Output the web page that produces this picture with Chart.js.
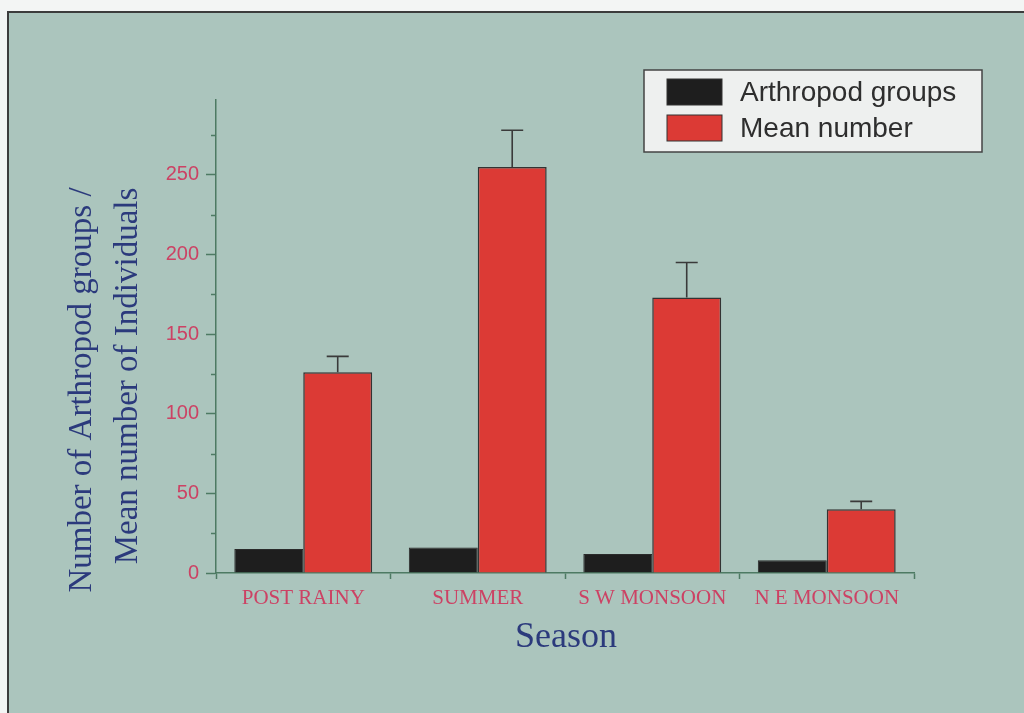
<!DOCTYPE html>
<html>
<head>
<meta charset="utf-8">
<script src="https://cdn.jsdelivr.net/npm/chart.js@4.4.0/dist/chart.umd.min.js"></script>
<style>
  html, body { margin: 0; padding: 0; background: #f3f5f4; }
  #wrap { width: 1024px; height: 713px; position: relative; }
</style>
</head>
<body>
<div id="wrap"><canvas id="chart" width="1024" height="713"></canvas></div>
<script>
// data
var seasons = ['POST RAINY', 'SUMMER', 'S W MONSOON', 'N E MONSOON'];
var arthropodGroups = [15, 16, 12, 8];
var meanNumber = [126, 255, 173, 40];
var meanError = [10, 23, 22, 5];
var yTicks = [0, 50, 100, 150, 200, 250];

var panelColor = '#abc5bd';
var axisColor = '#4d7a63';
var tickText = '#cc4264';
var titleColor = '#2b3a7c';

// background panel, y/x titles, minor ticks, legend box
var decor = {
    id: 'decor',
    beforeDraw: function(chart) {
        var c = chart.ctx;
        c.save();
        c.fillStyle = panelColor;
        c.fillRect(8, 12, 1016, 701);
        c.strokeStyle = '#3c3c3c';
        c.lineWidth = 2;
        c.beginPath();
        c.moveTo(8, 713);
        c.lineTo(8, 12);
        c.lineTo(1024, 12);
        c.stroke();
        c.restore();
    },
    afterDraw: function(chart) {
        var c = chart.ctx;
        var y = chart.scales.y;
        var area = chart.chartArea;
        c.save();

        // minor ticks
        c.strokeStyle = axisColor;
        c.lineWidth = 1.5;
        for (var v = 25; v < y.max; v += 50) {
            var py = Math.round(y.getPixelForValue(v)) + 0.5;
            c.beginPath();
            c.moveTo(area.left - 5, py);
            c.lineTo(area.left, py);
            c.stroke();
        }

        // y title, two lines
        c.fillStyle = titleColor;
        c.font = '33px "Liberation Serif", "DejaVu Serif", serif';
        c.textAlign = 'center';
        c.textBaseline = 'middle';
        c.save();
        c.translate(82, 390);
        c.rotate(-Math.PI / 2);
        c.fillText('Number of Arthropod groups /', 0, 0);
        c.restore();
        c.save();
        c.translate(128, 376);
        c.rotate(-Math.PI / 2);
        c.fillText('Mean number of Individuals', 0, 0);
        c.restore();

        // x title
        c.font = '36px "Liberation Serif", "DejaVu Serif", serif';
        c.fillText('Season', 566, 638);

        // legend
        c.fillStyle = '#eef0ef';
        c.fillRect(644, 70, 338, 82);
        c.strokeStyle = '#444';
        c.lineWidth = 1.5;
        c.strokeRect(644, 70, 338, 82);
        var ds = chart.data.datasets;
        var rows = [92, 128];
        c.font = '28px "Liberation Sans", Arial, sans-serif';
        c.textAlign = 'left';
        for (var i = 0; i < ds.length; i++) {
            c.fillStyle = ds[i].backgroundColor;
            c.fillRect(667, rows[i] - 13, 55, 26);
            c.strokeStyle = '#333';
            c.lineWidth = 1;
            c.strokeRect(667, rows[i] - 13, 55, 26);
            c.fillStyle = '#2e2e2e';
            c.fillText(ds[i].label, 740, rows[i] + 1);
        }
        c.restore();
    }
};

// upper error bars on the mean number series
var errorBars = {
    id: 'errorBars',
    afterDatasetsDraw: function(chart) {
        var c = chart.ctx;
        var meta = chart.getDatasetMeta(1);
        var y = chart.scales.y;
        c.save();
        c.strokeStyle = '#3a3a3a';
        c.lineWidth = 1.6;
        meta.data.forEach(function(bar, i) {
            var top = y.getPixelForValue(meanNumber[i] + meanError[i]);
            c.beginPath();
            c.moveTo(bar.x, bar.y);
            c.lineTo(bar.x, top);
            c.moveTo(bar.x - 11, top);
            c.lineTo(bar.x + 11, top);
            c.stroke();
        });
        c.restore();
    }
};

new Chart(document.getElementById('chart'), {
    type: 'bar',
    data: {
        labels: seasons,
        datasets: [{
            label: 'Arthropod groups',
            data: arthropodGroups,
            backgroundColor: '#1e1e1e',
            borderColor: '#2a2a2a',
            borderWidth: 1,
            barPercentage: 1,
            categoryPercentage: 0.79
        }, {
            label: 'Mean number',
            data: meanNumber,
            backgroundColor: '#dc3a35',
            borderColor: '#333333',
            borderWidth: 1.5,
            barPercentage: 1,
            categoryPercentage: 0.79
        }]
    },
    options: {
        responsive: false,
        animation: false,
        layout: { padding: { left: 150, right: 110, top: 100, bottom: 80 } },
        plugins: {
            legend: { display: false },
            tooltip: { enabled: false }
        },
        scales: {
            x: {
                afterFit: function(s) { s.height = 60; },
                grid: {
                    drawOnChartArea: false,
                    tickLength: 6,
                    tickColor: axisColor,
                    tickWidth: 1.5
                },
                border: { color: axisColor, width: 1.5 },
                ticks: {
                    padding: 7,
                    color: tickText,
                    font: { family: '"Liberation Serif", "DejaVu Serif", serif', size: 21 }
                }
            },
            y: {
                min: 0,
                max: 297,
                afterFit: function(s) { s.width = 66; },
                afterBuildTicks: function(s) {
                    s.ticks = yTicks.map(function(v) { return { value: v }; });
                },
                grid: {
                    drawOnChartArea: false,
                    tickLength: 10,
                    tickColor: axisColor,
                    tickWidth: 1.5
                },
                border: { color: axisColor, width: 1.5 },
                ticks: {
                    padding: 7,
                    color: tickText,
                    font: { family: '"Liberation Sans", Arial, sans-serif', size: 20 }
                }
            }
        }
    },
    plugins: [decor, errorBars]
});
</script>
</body>
</html>
